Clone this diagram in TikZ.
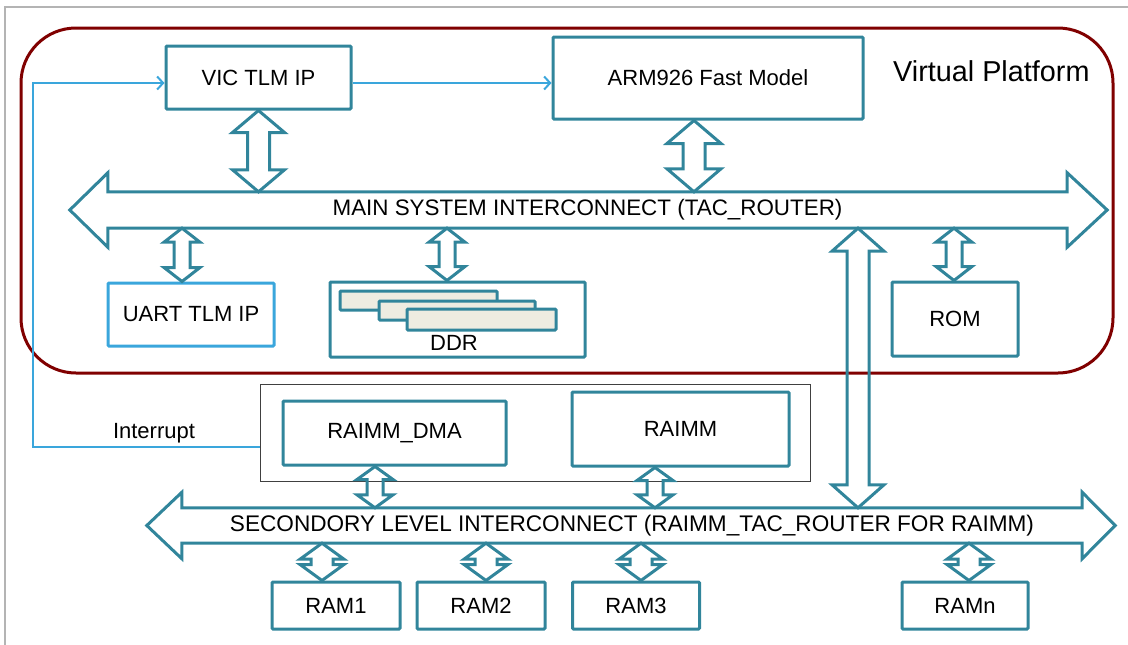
\documentclass[tikz,border=0pt]{standalone}
\usepackage{fontspec}
\setmainfont{Liberation Sans}
\usetikzlibrary{calc,arrows.meta}

\definecolor{busblue}{RGB}{49,133,155}
\definecolor{sigblue}{RGB}{58,166,220}
\definecolor{vpred}{RGB}{128,0,0}
\definecolor{ddrfill}{RGB}{238,236,225}
\definecolor{framegray}{RGB}{180,180,180}

\tikzset{
  txt/.style={font=\fontsize{22}{26}\selectfont, text=black},
  blk/.style={txt, draw=busblue, line width=3pt, rounded corners=1pt, inner sep=0pt},
  ublk/.style={blk, draw=sigblue},
  group/.style={draw=black!75, line width=1pt, inner sep=0pt},
  platform/.style={draw=vpred, line width=3pt, rounded corners=55pt, inner sep=0pt},
  busarrow/.style={draw=busblue, line width=3pt, line join=miter, miter limit=20},
  buslabel/.style={font=\fontsize{22.4}{26}\selectfont, text=black, inner sep=0pt},
  sig/.style={draw=sigblue, line width=2pt},
  sigtip/.style={-{Straight Barb[length=6pt,width=13pt,line width=2pt]}},
  memslab/.style={draw=busblue, fill=ddrfill, line width=3pt, rounded corners=1pt}
}

% vertical double block arrow: top point, bottom point, shaft half width,
% head half width, head length
\newcommand\vlink[5]{%
  \draw[busarrow] let \p1=#1, \p2=#2 in
    (\x1,\y1) -- (\x1+#4pt,\y1-#5pt) -- (\x1+#3pt,\y1-#5pt)
    -- (\x1+#3pt,\y2+#5pt) -- (\x1+#4pt,\y2+#5pt) -- (\x1,\y2)
    -- (\x1-#4pt,\y2+#5pt) -- (\x1-#3pt,\y2+#5pt)
    -- (\x1-#3pt,\y1-#5pt) -- (\x1-#4pt,\y1-#5pt) -- cycle;}

% horizontal double block arrow around a bus node: node, head overhang, tip lengths
\newcommand\hbus[4]{%
  \draw[busarrow] (#1.north west) -- ([yshift=#2]#1.north west)
    -- ([xshift=-#3]#1.west) -- ([yshift=-#2]#1.south west)
    -- (#1.south west) -- (#1.south east) -- ([yshift=-#2]#1.south east)
    -- ([xshift=#4]#1.east) -- ([yshift=#2]#1.north east)
    -- (#1.north east) -- cycle;}

\begin{document}
\begin{tikzpicture}[x=1pt, y=-1pt]
\useasboundingbox (0,0) rectangle (1128,645);

% outer frame
\draw[framegray, line width=2pt] (5,660) -- (5,7) -- (1140,7);

% virtual platform container
\node[platform, minimum width=1092pt, minimum height=345pt] (vp) at (567,200.5) {};
\node[font=\fontsize{28.8}{32}\selectfont, anchor=west, inner sep=0pt] (vptitle) at (893,71) {Virtual Platform};

% processor side
\node[blk, minimum width=185pt, minimum height=63pt] (vic) at (258.5,77.5) {VIC TLM IP};
\node[blk, minimum width=310pt, minimum height=82pt] (arm) at (708,78) {ARM926 Fast Model};

% main interconnect
\node[buslabel, minimum width=959pt, minimum height=36pt] (mainbus) at (587.5,210) {MAIN SYSTEM INTERCONNECT (TAC\_ROUTER)};
\hbus{mainbus}{19pt}{38pt}{40pt}

% peripherals on the main interconnect
\node[ublk, minimum width=166pt, minimum height=63pt] (uart) at (191,314.5) {UART TLM IP};
\node[blk, minimum width=255pt, minimum height=75pt] (ddr) at (457.5,319.5) {};
\draw[memslab] (340,291) rectangle (497,310);
\draw[memslab] (379,301) rectangle (535,320);
\draw[memslab] (407,309) rectangle (556,330);
\node[txt, inner sep=0pt] (ddrlabel) at (454,343) {DDR};
\node[blk, minimum width=126pt, minimum height=74pt] (rom) at (955,319) {ROM};

% RAIMM subsystem
\node[group, minimum width=550pt, minimum height=97pt] (grp) at (535,432.5) {};
\node[blk, minimum width=223pt, minimum height=64pt] (dma) at (394.5,433) {RAIMM\_DMA};
\node[blk, minimum width=217pt, minimum height=74pt] (raimm) at (680.5,429) {RAIMM};

% secondary interconnect
\node[buslabel, font=\fontsize{22.6}{26}\selectfont, minimum width=900pt, minimum height=35pt] (secbus) at (632,525.5) {SECONDORY LEVEL INTERCONNECT (RAIMM\_TAC\_ROUTER FOR RAIMM)};
\hbus{secbus}{15.5pt}{35pt}{33pt}

% memories
\node[blk, minimum width=128pt, minimum height=47pt] (ram1) at (336,605.5) {RAM1};
\node[blk, minimum width=128pt, minimum height=47pt] (ram2) at (481,605.5) {RAM2};
\node[blk, minimum width=127pt, minimum height=47pt] (ram3) at (636,605.5) {RAM3};
\node[blk, minimum width=126pt, minimum height=47pt] (ramn) at (965,605.5) {RAMn};

% bus links
\vlink{(vic.south)}{(vic.south |- mainbus.north)}{11}{26}{22}
\vlink{([xshift=-14pt]arm.south)}{([xshift=-14pt]arm.south |- mainbus.north)}{11}{27}{23}
\vlink{([xshift=-9pt]uart.north |- mainbus.south)}{([xshift=-9pt]uart.north)}{8}{18}{14}
\vlink{([xshift=-10.5pt]ddr.north |- mainbus.south)}{([xshift=-10.5pt]ddr.north)}{8}{18}{14}
\vlink{([xshift=-1pt]rom.north |- mainbus.south)}{([xshift=-1pt]rom.north)}{8}{18}{14}
\coordinate (bridge) at (858,370);
\vlink{(bridge |- mainbus.south)}{(bridge |- secbus.north)}{11}{26}{23}
\vlink{([xshift=-19.5pt]dma.south)}{([xshift=-19.5pt]dma.south |- secbus.north)}{8}{18}{13}
\vlink{([xshift=-25.5pt]raimm.south)}{([xshift=-25.5pt]raimm.south |- secbus.north)}{8}{18}{13}
\vlink{([xshift=-14pt]ram1.north |- secbus.south)}{([xshift=-14pt]ram1.north)}{11}{22}{16}
\vlink{([xshift=5pt]ram2.north |- secbus.south)}{([xshift=5pt]ram2.north)}{11}{22}{16}
\vlink{([xshift=5pt]ram3.north |- secbus.south)}{([xshift=5pt]ram3.north)}{11}{22}{16}
\vlink{([xshift=4pt]ramn.north |- secbus.south)}{([xshift=4pt]ramn.north)}{11}{22}{16}

% signal lines
\draw[sig, sigtip] ([yshift=-5.5pt]vic.east) -- ([yshift=-5.5pt]vic.east -| arm.west);
\draw[sig, sigtip] ([yshift=-14.5pt]grp.west) -- ++(-227,0) |- ([yshift=-5.5pt]vic.west);
\node[txt, inner sep=0pt] (irqlabel) at (154,433) {Interrupt};
\end{tikzpicture}
\end{document}
